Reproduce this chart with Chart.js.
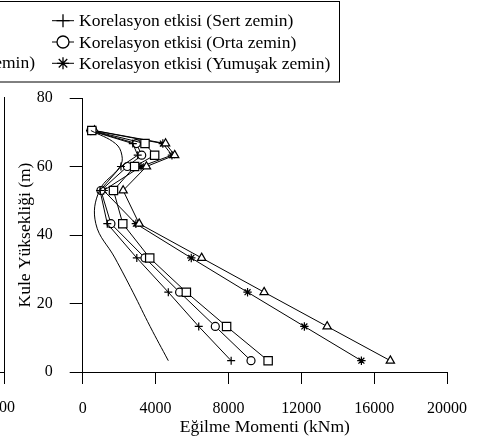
<!DOCTYPE html>
<html>
<head>
<meta charset="utf-8">
<script src="https://cdn.jsdelivr.net/npm/chart.js@4"></script>
<style>
  html, body { margin: 0; padding: 0; background: #fff; }
  #wrap { width: 482px; height: 443px; }
</style>
</head>
<body>
<div id="wrap"><canvas id="myChart"></canvas></div>
<script>
'use strict'

//data
// kule yuksekligi (m)
const heights = [3.3, 13.3, 23.3, 33.3, 43.3, 53, 60, 63.3, 66.7, 70.5];

// egilme momenti (kNm)
const sertKor = [8150, 6370, 4700, 2970, 1350, 950, 2100, 3020, 2750, 400];
const ortaKor = [9240, 7280, 5320, 3420, 1550, 1000, 2450, 3240, 2950, 450];
const yumusakKor = [15300, 12170, 9050, 5960, 2920, 1150, 3200, 4900, 4400, 600];
const sert = [4700, 3700, 2760, 1770, 720, 920, 2050, 2150, 1800, 450];
const orta = [10180, 7900, 5690, 3680, 2200, 1690, 2850, 3950, 3420, 500];
const yumusak = [16890, 13420, 9960, 6530, 3100, 2220, 3500, 5050, 4550, 650];

const xTicks = [0, 4000, 8000, 12000, 16000, 20000];
const yTicks = [0, 20, 40, 60, 80];

const serif = "'Liberation Serif', 'Times New Roman', serif";
Chart.defaults.font.family = serif;
Chart.defaults.font.size = 16;
Chart.defaults.color = '#000';

function toPoints(xs) {
  return xs.map((x, i) => ({ x: x, y: heights[i] }));
}

function makeSet(label, xs, style, radius, tension) {
  return {
    label: label,
    data: toPoints(xs),
    showLine: true,
    borderColor: '#000',
    backgroundColor: '#fff',
    borderWidth: 1,
    pointStyle: style,
    pointRadius: radius,
    pointBorderColor: '#000',
    pointBackgroundColor: '#fff',
    pointBorderWidth: 1.2,
    tension: tension || 0
  };
}

const datasets = [
  makeSet('Korelasyonsuz (Sert zemin)', sert, 'circle', 0, 0.4),
  makeSet('Korelasyonsuz (Orta zemin)', orta, 'rect', 5.9),
  makeSet('Korelasyonsuz (Yumuşak zemin)', yumusak, 'triangle', 4.8),
  makeSet('Korelasyon etkisi (Sert zemin)', sertKor, 'cross', 4),
  makeSet('Korelasyon etkisi (Orta zemin)', ortaKor, 'circle', 4),
  makeSet('Korelasyon etkisi (Yumuşak zemin)', yumusakKor, 'star', 4.2)
];

function drawMarker(ctx, style, r, x, y) {
  if (Chart.helpers && Chart.helpers.drawPoint) {
    ctx.fillStyle = '#fff';
    ctx.strokeStyle = '#000';
    ctx.lineWidth = 1.3;
    Chart.helpers.drawPoint(ctx, { pointStyle: style, radius: r, rotation: 0, borderWidth: 1.3 }, x, y);
  }
}

//legend box + the piece of the neighbouring panel
const framePlugin = {
  id: 'frame',
  afterDraw(chart) {
    const ctx = chart.ctx;
    ctx.save();
    ctx.strokeStyle = '#000';
    ctx.lineWidth = 1;
    ctx.strokeRect(-6.5, 1.5, 346, 80.5);

    // neighbour panel edge
    ctx.beginPath();
    ctx.moveTo(4.5, 97);
    ctx.lineTo(4.5, 384);
    ctx.moveTo(0, 372.5);
    ctx.lineTo(4.5, 372.5);
    ctx.stroke();

    ctx.font = '16px ' + serif;
    ctx.fillStyle = '#000';
    ctx.textBaseline = 'middle';
    ctx.textAlign = 'right';
    ctx.fillText('20000', 15, 408);

    const rows = [20.7, 42, 63.3];
    ctx.font = '17.5px ' + serif;
    ctx.textAlign = 'left';
    // left column, only its end is inside the picture
    const leftLabel = datasets[2].label;
    ctx.fillText(leftLabel, 35 - ctx.measureText(leftLabel).width, rows[2]);
    // right column
    for (let i = 0; i < 3; i++) {
      const ds = datasets[i + 3];
      ctx.strokeStyle = '#000';
      ctx.lineWidth = 1;
      ctx.beginPath();
      ctx.moveTo(52, rows[i]);
      ctx.lineTo(74, rows[i]);
      ctx.stroke();
      drawMarker(ctx, ds.pointStyle, i === 0 ? 6.5 : 6, 63, rows[i]);
      ctx.fillStyle = '#000';
      ctx.fillText(ds.label, 79, rows[i] + 1);
    }
    ctx.restore();
  }
};

const config = {
  type: 'scatter',
  data: { datasets: datasets },
  options: {
    responsive: true,
    maintainAspectRatio: false,
    animation: false,
    events: [],
    layout: { padding: { left: 0, right: 24.7, top: 98, bottom: 0 } },
    plugins: { legend: { display: false }, tooltip: { enabled: false } },
    scales: {
      x: {
        type: 'linear',
        min: xTicks[0],
        max: xTicks[xTicks.length - 1],
        afterFit: (scale) => { scale.height = 71; },
        afterBuildTicks: (scale) => { scale.ticks = xTicks.map(v => ({ value: v })); },
        ticks: { callback: v => String(v), padding: 15, maxRotation: 0, color: '#000' },
        grid: { drawOnChartArea: false, drawTicks: true, tickLength: 12, color: '#000', lineWidth: 1 },
        border: { color: '#000', width: 1 },
        title: { display: true, text: 'Eğilme Momenti (kNm)', color: '#000', font: { size: 17.5 }, padding: { top: 0, bottom: 5.5 } }
      },
      y: {
        type: 'linear',
        min: yTicks[0],
        max: yTicks[yTicks.length - 1],
        afterFit: (scale) => { scale.width = 82.7; },
        afterBuildTicks: (scale) => { scale.ticks = yTicks.map(v => ({ value: v })); },
        ticks: { callback: v => String(v), padding: 17, color: '#000' },
        grid: { drawOnChartArea: false, drawTicks: true, tickLength: 13, color: '#000', lineWidth: 1 },
        border: { color: '#000', width: 1 },
        title: { display: true, text: 'Kule Yüksekliği (m)', color: '#000', font: { size: 17.5 }, padding: { top: 14.5, bottom: 0 } }
      }
    }
  },
  plugins: [framePlugin]
};

let canvasChart = document.getElementById('myChart');
const myChart = new Chart(canvasChart, config);
</script>
</body>
</html>
